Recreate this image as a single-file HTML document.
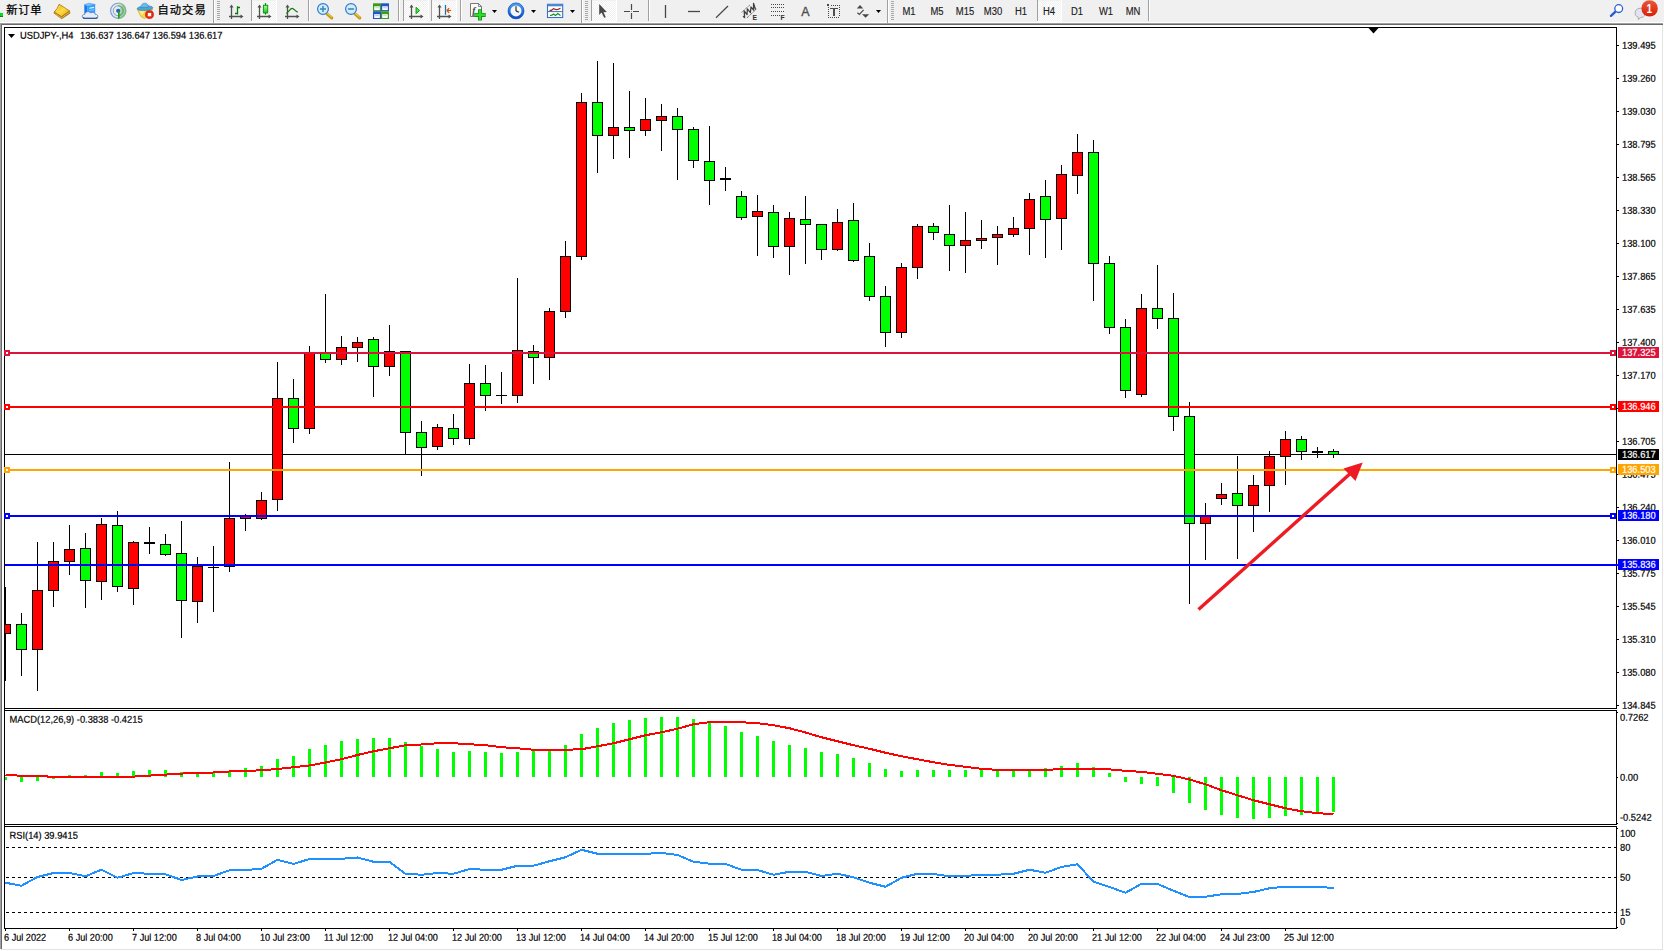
<!DOCTYPE html>
<html><head><meta charset="utf-8"><title>USDJPY H4</title>
<style>
html,body{margin:0;padding:0;background:#fff;}
body{width:1664px;height:951px;overflow:hidden;position:relative;font-family:"Liberation Sans","Noto Sans CJK SC",sans-serif;}
svg{position:absolute;left:0;top:0;display:block}
svg text{font-family:"Liberation Sans","Noto Sans CJK SC",sans-serif;}
</style></head><body>
<svg width="1664" height="951" viewBox="0 0 1664 951" shape-rendering="crispEdges">
<rect x="0" y="0" width="1664" height="951" fill="#fff"/>
<rect x="0" y="0" width="1664" height="22" fill="#f0f0f0"/>
<rect x="0" y="22" width="1664" height="1" fill="#fff"/>
<rect x="0" y="23" width="1663" height="1" fill="#a0a0a0"/>
<rect x="1" y="24" width="1662" height="1" fill="#696969"/>
<rect x="0" y="23" width="1" height="926" fill="#a0a0a0"/>
<rect x="1" y="24" width="1" height="925" fill="#696969"/>
<rect x="1662" y="25" width="1" height="925" fill="#e3e3e3"/>
<rect x="1" y="949" width="1662" height="1" fill="#e3e3e3"/>
<rect x="4" y="27" width="1613" height="1" fill="#000"/>
<rect x="4" y="27" width="1" height="902" fill="#000"/>
<rect x="1616" y="27" width="1" height="902" fill="#000"/>
<rect x="4" y="708" width="1613" height="1" fill="#000"/>
<rect x="4" y="710" width="1613" height="1" fill="#000"/>
<rect x="4" y="824" width="1613" height="1" fill="#000"/>
<rect x="4" y="826" width="1613" height="1" fill="#000"/>
<rect x="4" y="928" width="1613" height="1" fill="#000"/>
<rect x="5" y="709" width="1612" height="1" fill="#fff"/>
<rect x="5" y="825" width="1612" height="1" fill="#fff"/>
<polygon points="1368.5,28 1378.5,28 1373.5,33.5" fill="#000" shape-rendering="geometricPrecision"/>
<rect x="5" y="454" width="1611" height="1" fill="#000"/>
<rect x="5" y="587" width="1" height="94" fill="#000"/>
<rect x="0" y="624" width="11" height="10" fill="#000"/>
<rect x="1" y="625" width="9" height="8" fill="#ff0000"/>
<rect x="21" y="613" width="1" height="63" fill="#000"/>
<rect x="16" y="624" width="11" height="26" fill="#000"/>
<rect x="17" y="625" width="9" height="24" fill="#00ff00"/>
<rect x="37" y="542" width="1" height="149" fill="#000"/>
<rect x="32" y="590" width="11" height="60" fill="#000"/>
<rect x="33" y="591" width="9" height="58" fill="#ff0000"/>
<rect x="53" y="542" width="1" height="65" fill="#000"/>
<rect x="48" y="561" width="11" height="30" fill="#000"/>
<rect x="49" y="562" width="9" height="28" fill="#ff0000"/>
<rect x="69" y="525" width="1" height="50" fill="#000"/>
<rect x="64" y="549" width="11" height="13" fill="#000"/>
<rect x="65" y="550" width="9" height="11" fill="#ff0000"/>
<rect x="85" y="533" width="1" height="75" fill="#000"/>
<rect x="80" y="548" width="11" height="33" fill="#000"/>
<rect x="81" y="549" width="9" height="31" fill="#00ff00"/>
<rect x="101" y="518" width="1" height="82" fill="#000"/>
<rect x="96" y="524" width="11" height="58" fill="#000"/>
<rect x="97" y="525" width="9" height="56" fill="#ff0000"/>
<rect x="117" y="511" width="1" height="81" fill="#000"/>
<rect x="112" y="525" width="11" height="62" fill="#000"/>
<rect x="113" y="526" width="9" height="60" fill="#00ff00"/>
<rect x="133" y="541" width="1" height="64" fill="#000"/>
<rect x="128" y="542" width="11" height="47" fill="#000"/>
<rect x="129" y="543" width="9" height="45" fill="#ff0000"/>
<rect x="149" y="527" width="1" height="27" fill="#000"/>
<rect x="144" y="542" width="11" height="2" fill="#000"/>
<rect x="165" y="534" width="1" height="22" fill="#000"/>
<rect x="160" y="544" width="11" height="11" fill="#000"/>
<rect x="161" y="545" width="9" height="9" fill="#00ff00"/>
<rect x="181" y="521" width="1" height="117" fill="#000"/>
<rect x="176" y="553" width="11" height="48" fill="#000"/>
<rect x="177" y="554" width="9" height="46" fill="#00ff00"/>
<rect x="197" y="557" width="1" height="66" fill="#000"/>
<rect x="192" y="566" width="11" height="36" fill="#000"/>
<rect x="193" y="567" width="9" height="34" fill="#ff0000"/>
<rect x="213" y="546" width="1" height="66" fill="#000"/>
<rect x="208" y="567" width="11" height="1" fill="#000"/>
<rect x="229" y="462" width="1" height="110" fill="#000"/>
<rect x="224" y="518" width="11" height="49" fill="#000"/>
<rect x="225" y="519" width="9" height="47" fill="#ff0000"/>
<rect x="245" y="514" width="1" height="17" fill="#000"/>
<rect x="240" y="516" width="11" height="3" fill="#000"/>
<rect x="241" y="517" width="9" height="1" fill="#ff0000"/>
<rect x="261" y="492" width="1" height="28" fill="#000"/>
<rect x="256" y="500" width="11" height="19" fill="#000"/>
<rect x="257" y="501" width="9" height="17" fill="#ff0000"/>
<rect x="277" y="362" width="1" height="149" fill="#000"/>
<rect x="272" y="398" width="11" height="102" fill="#000"/>
<rect x="273" y="399" width="9" height="100" fill="#ff0000"/>
<rect x="293" y="379" width="1" height="64" fill="#000"/>
<rect x="288" y="398" width="11" height="31" fill="#000"/>
<rect x="289" y="399" width="9" height="29" fill="#00ff00"/>
<rect x="309" y="346" width="1" height="88" fill="#000"/>
<rect x="304" y="353" width="11" height="76" fill="#000"/>
<rect x="305" y="354" width="9" height="74" fill="#ff0000"/>
<rect x="325" y="294" width="1" height="69" fill="#000"/>
<rect x="320" y="353" width="11" height="7" fill="#000"/>
<rect x="321" y="354" width="9" height="5" fill="#00ff00"/>
<rect x="341" y="336" width="1" height="29" fill="#000"/>
<rect x="336" y="347" width="11" height="13" fill="#000"/>
<rect x="337" y="348" width="9" height="11" fill="#ff0000"/>
<rect x="357" y="337" width="1" height="25" fill="#000"/>
<rect x="352" y="342" width="11" height="6" fill="#000"/>
<rect x="353" y="343" width="9" height="4" fill="#ff0000"/>
<rect x="373" y="337" width="1" height="60" fill="#000"/>
<rect x="368" y="339" width="11" height="28" fill="#000"/>
<rect x="369" y="340" width="9" height="26" fill="#00ff00"/>
<rect x="389" y="325" width="1" height="51" fill="#000"/>
<rect x="384" y="351" width="11" height="16" fill="#000"/>
<rect x="385" y="352" width="9" height="14" fill="#ff0000"/>
<rect x="405" y="351" width="1" height="103" fill="#000"/>
<rect x="400" y="351" width="11" height="82" fill="#000"/>
<rect x="401" y="352" width="9" height="80" fill="#00ff00"/>
<rect x="421" y="421" width="1" height="55" fill="#000"/>
<rect x="416" y="432" width="11" height="16" fill="#000"/>
<rect x="417" y="433" width="9" height="14" fill="#00ff00"/>
<rect x="437" y="424" width="1" height="26" fill="#000"/>
<rect x="432" y="427" width="11" height="20" fill="#000"/>
<rect x="433" y="428" width="9" height="18" fill="#ff0000"/>
<rect x="453" y="414" width="1" height="31" fill="#000"/>
<rect x="448" y="428" width="11" height="11" fill="#000"/>
<rect x="449" y="429" width="9" height="9" fill="#00ff00"/>
<rect x="469" y="364" width="1" height="81" fill="#000"/>
<rect x="464" y="383" width="11" height="56" fill="#000"/>
<rect x="465" y="384" width="9" height="54" fill="#ff0000"/>
<rect x="485" y="365" width="1" height="46" fill="#000"/>
<rect x="480" y="383" width="11" height="13" fill="#000"/>
<rect x="481" y="384" width="9" height="11" fill="#00ff00"/>
<rect x="501" y="372" width="1" height="32" fill="#000"/>
<rect x="496" y="395" width="11" height="1" fill="#000"/>
<rect x="517" y="278" width="1" height="125" fill="#000"/>
<rect x="512" y="350" width="11" height="46" fill="#000"/>
<rect x="513" y="351" width="9" height="44" fill="#ff0000"/>
<rect x="533" y="345" width="1" height="39" fill="#000"/>
<rect x="528" y="351" width="11" height="7" fill="#000"/>
<rect x="529" y="352" width="9" height="5" fill="#00ff00"/>
<rect x="549" y="308" width="1" height="72" fill="#000"/>
<rect x="544" y="311" width="11" height="47" fill="#000"/>
<rect x="545" y="312" width="9" height="45" fill="#ff0000"/>
<rect x="565" y="241" width="1" height="77" fill="#000"/>
<rect x="560" y="256" width="11" height="56" fill="#000"/>
<rect x="561" y="257" width="9" height="54" fill="#ff0000"/>
<rect x="581" y="93" width="1" height="167" fill="#000"/>
<rect x="576" y="102" width="11" height="155" fill="#000"/>
<rect x="577" y="103" width="9" height="153" fill="#ff0000"/>
<rect x="597" y="61" width="1" height="112" fill="#000"/>
<rect x="592" y="102" width="11" height="34" fill="#000"/>
<rect x="593" y="103" width="9" height="32" fill="#00ff00"/>
<rect x="613" y="63" width="1" height="96" fill="#000"/>
<rect x="608" y="127" width="11" height="9" fill="#000"/>
<rect x="609" y="128" width="9" height="7" fill="#ff0000"/>
<rect x="629" y="91" width="1" height="67" fill="#000"/>
<rect x="624" y="127" width="11" height="4" fill="#000"/>
<rect x="625" y="128" width="9" height="2" fill="#00ff00"/>
<rect x="645" y="98" width="1" height="38" fill="#000"/>
<rect x="640" y="119" width="11" height="12" fill="#000"/>
<rect x="641" y="120" width="9" height="10" fill="#ff0000"/>
<rect x="661" y="104" width="1" height="47" fill="#000"/>
<rect x="656" y="116" width="11" height="5" fill="#000"/>
<rect x="657" y="117" width="9" height="3" fill="#ff0000"/>
<rect x="677" y="108" width="1" height="72" fill="#000"/>
<rect x="672" y="116" width="11" height="14" fill="#000"/>
<rect x="673" y="117" width="9" height="12" fill="#00ff00"/>
<rect x="693" y="127" width="1" height="41" fill="#000"/>
<rect x="688" y="129" width="11" height="32" fill="#000"/>
<rect x="689" y="130" width="9" height="30" fill="#00ff00"/>
<rect x="709" y="126" width="1" height="79" fill="#000"/>
<rect x="704" y="161" width="11" height="20" fill="#000"/>
<rect x="705" y="162" width="9" height="18" fill="#00ff00"/>
<rect x="725" y="167" width="1" height="24" fill="#000"/>
<rect x="720" y="178" width="11" height="2" fill="#000"/>
<rect x="741" y="191" width="1" height="29" fill="#000"/>
<rect x="736" y="196" width="11" height="22" fill="#000"/>
<rect x="737" y="197" width="9" height="20" fill="#00ff00"/>
<rect x="757" y="195" width="1" height="61" fill="#000"/>
<rect x="752" y="211" width="11" height="6" fill="#000"/>
<rect x="753" y="212" width="9" height="4" fill="#ff0000"/>
<rect x="773" y="205" width="1" height="53" fill="#000"/>
<rect x="768" y="212" width="11" height="35" fill="#000"/>
<rect x="769" y="213" width="9" height="33" fill="#00ff00"/>
<rect x="789" y="212" width="1" height="63" fill="#000"/>
<rect x="784" y="218" width="11" height="29" fill="#000"/>
<rect x="785" y="219" width="9" height="27" fill="#ff0000"/>
<rect x="805" y="196" width="1" height="68" fill="#000"/>
<rect x="800" y="219" width="11" height="6" fill="#000"/>
<rect x="801" y="220" width="9" height="4" fill="#00ff00"/>
<rect x="821" y="224" width="1" height="36" fill="#000"/>
<rect x="816" y="224" width="11" height="26" fill="#000"/>
<rect x="817" y="225" width="9" height="24" fill="#00ff00"/>
<rect x="837" y="209" width="1" height="42" fill="#000"/>
<rect x="832" y="222" width="11" height="28" fill="#000"/>
<rect x="833" y="223" width="9" height="26" fill="#ff0000"/>
<rect x="853" y="203" width="1" height="59" fill="#000"/>
<rect x="848" y="220" width="11" height="41" fill="#000"/>
<rect x="849" y="221" width="9" height="39" fill="#00ff00"/>
<rect x="869" y="243" width="1" height="58" fill="#000"/>
<rect x="864" y="256" width="11" height="41" fill="#000"/>
<rect x="865" y="257" width="9" height="39" fill="#00ff00"/>
<rect x="885" y="286" width="1" height="61" fill="#000"/>
<rect x="880" y="296" width="11" height="37" fill="#000"/>
<rect x="881" y="297" width="9" height="35" fill="#00ff00"/>
<rect x="901" y="263" width="1" height="75" fill="#000"/>
<rect x="896" y="267" width="11" height="66" fill="#000"/>
<rect x="897" y="268" width="9" height="64" fill="#ff0000"/>
<rect x="917" y="224" width="1" height="55" fill="#000"/>
<rect x="912" y="226" width="11" height="42" fill="#000"/>
<rect x="913" y="227" width="9" height="40" fill="#ff0000"/>
<rect x="933" y="223" width="1" height="17" fill="#000"/>
<rect x="928" y="226" width="11" height="7" fill="#000"/>
<rect x="929" y="227" width="9" height="5" fill="#00ff00"/>
<rect x="949" y="205" width="1" height="66" fill="#000"/>
<rect x="944" y="234" width="11" height="12" fill="#000"/>
<rect x="945" y="235" width="9" height="10" fill="#00ff00"/>
<rect x="965" y="212" width="1" height="61" fill="#000"/>
<rect x="960" y="240" width="11" height="6" fill="#000"/>
<rect x="961" y="241" width="9" height="4" fill="#ff0000"/>
<rect x="981" y="220" width="1" height="29" fill="#000"/>
<rect x="976" y="238" width="11" height="3" fill="#000"/>
<rect x="977" y="239" width="9" height="1" fill="#ff0000"/>
<rect x="997" y="226" width="1" height="39" fill="#000"/>
<rect x="992" y="234" width="11" height="4" fill="#000"/>
<rect x="993" y="235" width="9" height="2" fill="#ff0000"/>
<rect x="1013" y="217" width="1" height="20" fill="#000"/>
<rect x="1008" y="228" width="11" height="7" fill="#000"/>
<rect x="1009" y="229" width="9" height="5" fill="#ff0000"/>
<rect x="1029" y="193" width="1" height="62" fill="#000"/>
<rect x="1024" y="199" width="11" height="30" fill="#000"/>
<rect x="1025" y="200" width="9" height="28" fill="#ff0000"/>
<rect x="1045" y="180" width="1" height="78" fill="#000"/>
<rect x="1040" y="196" width="11" height="24" fill="#000"/>
<rect x="1041" y="197" width="9" height="22" fill="#00ff00"/>
<rect x="1061" y="165" width="1" height="85" fill="#000"/>
<rect x="1056" y="174" width="11" height="45" fill="#000"/>
<rect x="1057" y="175" width="9" height="43" fill="#ff0000"/>
<rect x="1077" y="134" width="1" height="60" fill="#000"/>
<rect x="1072" y="152" width="11" height="24" fill="#000"/>
<rect x="1073" y="153" width="9" height="22" fill="#ff0000"/>
<rect x="1093" y="140" width="1" height="161" fill="#000"/>
<rect x="1088" y="152" width="11" height="112" fill="#000"/>
<rect x="1089" y="153" width="9" height="110" fill="#00ff00"/>
<rect x="1109" y="256" width="1" height="78" fill="#000"/>
<rect x="1104" y="263" width="11" height="65" fill="#000"/>
<rect x="1105" y="264" width="9" height="63" fill="#00ff00"/>
<rect x="1125" y="319" width="1" height="79" fill="#000"/>
<rect x="1120" y="327" width="11" height="64" fill="#000"/>
<rect x="1121" y="328" width="9" height="62" fill="#00ff00"/>
<rect x="1141" y="294" width="1" height="103" fill="#000"/>
<rect x="1136" y="308" width="11" height="87" fill="#000"/>
<rect x="1137" y="309" width="9" height="85" fill="#ff0000"/>
<rect x="1157" y="265" width="1" height="64" fill="#000"/>
<rect x="1152" y="308" width="11" height="11" fill="#000"/>
<rect x="1153" y="309" width="9" height="9" fill="#00ff00"/>
<rect x="1173" y="293" width="1" height="138" fill="#000"/>
<rect x="1168" y="318" width="11" height="99" fill="#000"/>
<rect x="1169" y="319" width="9" height="97" fill="#00ff00"/>
<rect x="1189" y="402" width="1" height="202" fill="#000"/>
<rect x="1184" y="416" width="11" height="108" fill="#000"/>
<rect x="1185" y="417" width="9" height="106" fill="#00ff00"/>
<rect x="1205" y="503" width="1" height="57" fill="#000"/>
<rect x="1200" y="516" width="11" height="8" fill="#000"/>
<rect x="1201" y="517" width="9" height="6" fill="#ff0000"/>
<rect x="1221" y="483" width="1" height="22" fill="#000"/>
<rect x="1216" y="494" width="11" height="5" fill="#000"/>
<rect x="1217" y="495" width="9" height="3" fill="#ff0000"/>
<rect x="1237" y="456" width="1" height="103" fill="#000"/>
<rect x="1232" y="493" width="11" height="13" fill="#000"/>
<rect x="1233" y="494" width="9" height="11" fill="#00ff00"/>
<rect x="1253" y="475" width="1" height="57" fill="#000"/>
<rect x="1248" y="485" width="11" height="21" fill="#000"/>
<rect x="1249" y="486" width="9" height="19" fill="#ff0000"/>
<rect x="1269" y="451" width="1" height="61" fill="#000"/>
<rect x="1264" y="456" width="11" height="30" fill="#000"/>
<rect x="1265" y="457" width="9" height="28" fill="#ff0000"/>
<rect x="1285" y="431" width="1" height="54" fill="#000"/>
<rect x="1280" y="439" width="11" height="18" fill="#000"/>
<rect x="1281" y="440" width="9" height="16" fill="#ff0000"/>
<rect x="1301" y="436" width="1" height="24" fill="#000"/>
<rect x="1296" y="439" width="11" height="13" fill="#000"/>
<rect x="1297" y="440" width="9" height="11" fill="#00ff00"/>
<rect x="1317" y="447" width="1" height="11" fill="#000"/>
<rect x="1312" y="451" width="11" height="2" fill="#000"/>
<rect x="1333" y="449" width="1" height="9" fill="#000"/>
<rect x="1328" y="451" width="11" height="4" fill="#000"/>
<rect x="1329" y="452" width="9" height="2" fill="#00ff00"/>
<rect x="0" y="25" width="4" height="680" fill="#fff"/>
<rect x="0" y="23" width="1" height="926" fill="#a0a0a0"/>
<rect x="1" y="24" width="1" height="925" fill="#696969"/>
<rect x="4" y="27" width="1" height="902" fill="#000"/>
<rect x="1617" y="45" width="2" height="1" fill="#000"/>
<text transform="translate(1622 48.7) scale(0.933 1) rotate(0.03)" font-size="10.0px" fill="#000" stroke="#000" stroke-width="0.2" text-anchor="start">139.495</text>
<rect x="1617" y="78" width="2" height="1" fill="#000"/>
<text transform="translate(1622 81.7) scale(0.933 1) rotate(0.03)" font-size="10.0px" fill="#000" stroke="#000" stroke-width="0.2" text-anchor="start">139.260</text>
<rect x="1617" y="111" width="2" height="1" fill="#000"/>
<text transform="translate(1622 114.7) scale(0.933 1) rotate(0.03)" font-size="10.0px" fill="#000" stroke="#000" stroke-width="0.2" text-anchor="start">139.030</text>
<rect x="1617" y="144" width="2" height="1" fill="#000"/>
<text transform="translate(1622 147.7) scale(0.933 1) rotate(0.03)" font-size="10.0px" fill="#000" stroke="#000" stroke-width="0.2" text-anchor="start">138.795</text>
<rect x="1617" y="177" width="2" height="1" fill="#000"/>
<text transform="translate(1622 180.7) scale(0.933 1) rotate(0.03)" font-size="10.0px" fill="#000" stroke="#000" stroke-width="0.2" text-anchor="start">138.565</text>
<rect x="1617" y="210" width="2" height="1" fill="#000"/>
<text transform="translate(1622 213.7) scale(0.933 1) rotate(0.03)" font-size="10.0px" fill="#000" stroke="#000" stroke-width="0.2" text-anchor="start">138.330</text>
<rect x="1617" y="243" width="2" height="1" fill="#000"/>
<text transform="translate(1622 246.7) scale(0.933 1) rotate(0.03)" font-size="10.0px" fill="#000" stroke="#000" stroke-width="0.2" text-anchor="start">138.100</text>
<rect x="1617" y="276" width="2" height="1" fill="#000"/>
<text transform="translate(1622 279.7) scale(0.933 1) rotate(0.03)" font-size="10.0px" fill="#000" stroke="#000" stroke-width="0.2" text-anchor="start">137.865</text>
<rect x="1617" y="309" width="2" height="1" fill="#000"/>
<text transform="translate(1622 312.7) scale(0.933 1) rotate(0.03)" font-size="10.0px" fill="#000" stroke="#000" stroke-width="0.2" text-anchor="start">137.635</text>
<rect x="1617" y="342" width="2" height="1" fill="#000"/>
<text transform="translate(1622 345.7) scale(0.933 1) rotate(0.03)" font-size="10.0px" fill="#000" stroke="#000" stroke-width="0.2" text-anchor="start">137.400</text>
<rect x="1617" y="375" width="2" height="1" fill="#000"/>
<text transform="translate(1622 378.7) scale(0.933 1) rotate(0.03)" font-size="10.0px" fill="#000" stroke="#000" stroke-width="0.2" text-anchor="start">137.170</text>
<rect x="1617" y="408" width="2" height="1" fill="#000"/>
<rect x="1617" y="441" width="2" height="1" fill="#000"/>
<text transform="translate(1622 444.7) scale(0.933 1) rotate(0.03)" font-size="10.0px" fill="#000" stroke="#000" stroke-width="0.2" text-anchor="start">136.705</text>
<rect x="1617" y="474" width="2" height="1" fill="#000"/>
<text transform="translate(1622 477.7) scale(0.933 1) rotate(0.03)" font-size="10.0px" fill="#000" stroke="#000" stroke-width="0.2" text-anchor="start">136.475</text>
<rect x="1617" y="507" width="2" height="1" fill="#000"/>
<text transform="translate(1622 510.7) scale(0.933 1) rotate(0.03)" font-size="10.0px" fill="#000" stroke="#000" stroke-width="0.2" text-anchor="start">136.240</text>
<rect x="1617" y="540" width="2" height="1" fill="#000"/>
<text transform="translate(1622 543.7) scale(0.933 1) rotate(0.03)" font-size="10.0px" fill="#000" stroke="#000" stroke-width="0.2" text-anchor="start">136.010</text>
<rect x="1617" y="573" width="2" height="1" fill="#000"/>
<text transform="translate(1622 576.7) scale(0.933 1) rotate(0.03)" font-size="10.0px" fill="#000" stroke="#000" stroke-width="0.2" text-anchor="start">135.775</text>
<rect x="1617" y="606" width="2" height="1" fill="#000"/>
<text transform="translate(1622 609.7) scale(0.933 1) rotate(0.03)" font-size="10.0px" fill="#000" stroke="#000" stroke-width="0.2" text-anchor="start">135.545</text>
<rect x="1617" y="639" width="2" height="1" fill="#000"/>
<text transform="translate(1622 642.7) scale(0.933 1) rotate(0.03)" font-size="10.0px" fill="#000" stroke="#000" stroke-width="0.2" text-anchor="start">135.310</text>
<rect x="1617" y="672" width="2" height="1" fill="#000"/>
<text transform="translate(1622 675.7) scale(0.933 1) rotate(0.03)" font-size="10.0px" fill="#000" stroke="#000" stroke-width="0.2" text-anchor="start">135.080</text>
<rect x="1617" y="705" width="2" height="1" fill="#000"/>
<text transform="translate(1622 708.7) scale(0.933 1) rotate(0.03)" font-size="10.0px" fill="#000" stroke="#000" stroke-width="0.2" text-anchor="start">134.845</text>
<rect x="5" y="352" width="1611" height="2" fill="#dc143c"/>
<rect x="4" y="350" width="6" height="6" fill="#dc143c"/>
<rect x="6" y="352" width="2" height="2" fill="#fff"/>
<rect x="1610" y="350" width="6" height="6" fill="#dc143c"/>
<rect x="1612" y="352" width="2" height="2" fill="#fff"/>
<rect x="1618" y="347" width="41" height="11" fill="#dc143c"/>
<text transform="translate(1622 355.7) scale(0.933 1) rotate(0.03)" font-size="10.0px" fill="#fff" stroke="#fff" stroke-width="0.2" text-anchor="start">137.325</text>
<rect x="5" y="406" width="1611" height="2" fill="#ff0000"/>
<rect x="4" y="404" width="6" height="6" fill="#ff0000"/>
<rect x="6" y="406" width="2" height="2" fill="#fff"/>
<rect x="1610" y="404" width="6" height="6" fill="#ff0000"/>
<rect x="1612" y="406" width="2" height="2" fill="#fff"/>
<rect x="1618" y="401" width="41" height="11" fill="#ff0000"/>
<text transform="translate(1622 409.7) scale(0.933 1) rotate(0.03)" font-size="10.0px" fill="#fff" stroke="#fff" stroke-width="0.2" text-anchor="start">136.946</text>
<rect x="1618" y="449" width="41" height="11" fill="#000"/>
<text transform="translate(1622 457.7) scale(0.933 1) rotate(0.03)" font-size="10.0px" fill="#fff" stroke="#fff" stroke-width="0.2" text-anchor="start">136.617</text>
<rect x="5" y="469" width="1611" height="2" fill="#ffa500"/>
<rect x="4" y="467" width="6" height="6" fill="#ffa500"/>
<rect x="6" y="469" width="2" height="2" fill="#fff"/>
<rect x="1610" y="467" width="6" height="6" fill="#ffa500"/>
<rect x="1612" y="469" width="2" height="2" fill="#fff"/>
<rect x="1618" y="464" width="41" height="11" fill="#ffa500"/>
<text transform="translate(1622 472.7) scale(0.933 1) rotate(0.03)" font-size="10.0px" fill="#fff" stroke="#fff" stroke-width="0.2" text-anchor="start">136.503</text>
<rect x="5" y="515" width="1611" height="2" fill="#0000ff"/>
<rect x="4" y="513" width="6" height="6" fill="#0000ff"/>
<rect x="6" y="515" width="2" height="2" fill="#fff"/>
<rect x="1610" y="513" width="6" height="6" fill="#0000ff"/>
<rect x="1612" y="515" width="2" height="2" fill="#fff"/>
<rect x="1618" y="510" width="41" height="11" fill="#0000ff"/>
<text transform="translate(1622 518.7) scale(0.933 1) rotate(0.03)" font-size="10.0px" fill="#fff" stroke="#fff" stroke-width="0.2" text-anchor="start">136.180</text>
<rect x="5" y="564" width="1611" height="2" fill="#0000ff"/>
<rect x="1616" y="564" width="3" height="2" fill="#0000ff"/>
<rect x="1618" y="559" width="41" height="11" fill="#0000ff"/>
<text transform="translate(1622 567.7) scale(0.933 1) rotate(0.03)" font-size="10.0px" fill="#fff" stroke="#fff" stroke-width="0.2" text-anchor="start">135.836</text>
<g shape-rendering="geometricPrecision"><line x1="1198.5" y1="609.5" x2="1352" y2="472" stroke="#ed1c24" stroke-width="3.4"/><polygon points="1362.7,462.5 1343.5,468.6 1355.5,480.9" fill="#ed1c24"/></g>
<polygon points="8,34 15,34 11.5,38" fill="#000" shape-rendering="geometricPrecision"/>
<text transform="translate(20 38.7) scale(0.933 1) rotate(0.03)" font-size="10.0px" fill="#000" stroke="#000" stroke-width="0.2" text-anchor="start">USDJPY-,H4</text>
<text transform="translate(80 38.7) scale(0.933 1) rotate(0.03)" font-size="10.0px" fill="#000" stroke="#000" stroke-width="0.2" text-anchor="start">136.637 136.647 136.594 136.617</text>
<rect x="5" y="777" width="2" height="3" fill="#00ff00"/>
<rect x="20" y="777" width="3" height="5" fill="#00ff00"/>
<rect x="36" y="777" width="3" height="4" fill="#00ff00"/>
<rect x="52" y="777" width="3" height="2" fill="#00ff00"/>
<rect x="68" y="775" width="3" height="2" fill="#00ff00"/>
<rect x="84" y="775" width="3" height="2" fill="#00ff00"/>
<rect x="100" y="772" width="3" height="5" fill="#00ff00"/>
<rect x="116" y="773" width="3" height="4" fill="#00ff00"/>
<rect x="132" y="771" width="3" height="6" fill="#00ff00"/>
<rect x="148" y="770" width="3" height="7" fill="#00ff00"/>
<rect x="164" y="770" width="3" height="7" fill="#00ff00"/>
<rect x="180" y="772" width="3" height="5" fill="#00ff00"/>
<rect x="196" y="772" width="3" height="5" fill="#00ff00"/>
<rect x="212" y="772" width="3" height="5" fill="#00ff00"/>
<rect x="228" y="771" width="3" height="6" fill="#00ff00"/>
<rect x="244" y="768" width="3" height="9" fill="#00ff00"/>
<rect x="260" y="766" width="3" height="11" fill="#00ff00"/>
<rect x="276" y="759" width="3" height="18" fill="#00ff00"/>
<rect x="292" y="756" width="3" height="21" fill="#00ff00"/>
<rect x="308" y="749" width="3" height="28" fill="#00ff00"/>
<rect x="324" y="745" width="3" height="32" fill="#00ff00"/>
<rect x="340" y="741" width="3" height="36" fill="#00ff00"/>
<rect x="356" y="739" width="3" height="38" fill="#00ff00"/>
<rect x="372" y="738" width="3" height="39" fill="#00ff00"/>
<rect x="388" y="738" width="3" height="39" fill="#00ff00"/>
<rect x="404" y="742" width="3" height="35" fill="#00ff00"/>
<rect x="420" y="746" width="3" height="31" fill="#00ff00"/>
<rect x="436" y="749" width="3" height="28" fill="#00ff00"/>
<rect x="452" y="752" width="3" height="25" fill="#00ff00"/>
<rect x="468" y="751" width="3" height="26" fill="#00ff00"/>
<rect x="484" y="752" width="3" height="25" fill="#00ff00"/>
<rect x="500" y="753" width="3" height="24" fill="#00ff00"/>
<rect x="516" y="752" width="3" height="25" fill="#00ff00"/>
<rect x="532" y="751" width="3" height="26" fill="#00ff00"/>
<rect x="548" y="751" width="3" height="26" fill="#00ff00"/>
<rect x="564" y="745" width="3" height="32" fill="#00ff00"/>
<rect x="580" y="734" width="3" height="43" fill="#00ff00"/>
<rect x="596" y="728" width="3" height="49" fill="#00ff00"/>
<rect x="612" y="723" width="3" height="54" fill="#00ff00"/>
<rect x="628" y="720" width="3" height="57" fill="#00ff00"/>
<rect x="644" y="718" width="3" height="59" fill="#00ff00"/>
<rect x="660" y="717" width="3" height="60" fill="#00ff00"/>
<rect x="676" y="717" width="3" height="60" fill="#00ff00"/>
<rect x="692" y="719" width="3" height="58" fill="#00ff00"/>
<rect x="708" y="723" width="3" height="54" fill="#00ff00"/>
<rect x="724" y="726" width="3" height="51" fill="#00ff00"/>
<rect x="740" y="732" width="3" height="45" fill="#00ff00"/>
<rect x="756" y="736" width="3" height="41" fill="#00ff00"/>
<rect x="772" y="741" width="3" height="36" fill="#00ff00"/>
<rect x="788" y="745" width="3" height="32" fill="#00ff00"/>
<rect x="804" y="748" width="3" height="29" fill="#00ff00"/>
<rect x="820" y="752" width="3" height="25" fill="#00ff00"/>
<rect x="836" y="754" width="3" height="23" fill="#00ff00"/>
<rect x="852" y="758" width="3" height="19" fill="#00ff00"/>
<rect x="868" y="763" width="3" height="14" fill="#00ff00"/>
<rect x="884" y="769" width="3" height="8" fill="#00ff00"/>
<rect x="900" y="771" width="3" height="6" fill="#00ff00"/>
<rect x="916" y="770" width="3" height="7" fill="#00ff00"/>
<rect x="932" y="770" width="3" height="7" fill="#00ff00"/>
<rect x="948" y="770" width="3" height="7" fill="#00ff00"/>
<rect x="964" y="770" width="3" height="7" fill="#00ff00"/>
<rect x="980" y="770" width="3" height="7" fill="#00ff00"/>
<rect x="996" y="770" width="3" height="7" fill="#00ff00"/>
<rect x="1012" y="770" width="3" height="7" fill="#00ff00"/>
<rect x="1028" y="770" width="3" height="7" fill="#00ff00"/>
<rect x="1044" y="768" width="3" height="9" fill="#00ff00"/>
<rect x="1060" y="766" width="3" height="11" fill="#00ff00"/>
<rect x="1076" y="763" width="3" height="14" fill="#00ff00"/>
<rect x="1092" y="767" width="3" height="10" fill="#00ff00"/>
<rect x="1108" y="773" width="3" height="4" fill="#00ff00"/>
<rect x="1124" y="777" width="3" height="5" fill="#00ff00"/>
<rect x="1140" y="777" width="3" height="7" fill="#00ff00"/>
<rect x="1156" y="777" width="3" height="9" fill="#00ff00"/>
<rect x="1172" y="777" width="3" height="16" fill="#00ff00"/>
<rect x="1188" y="777" width="3" height="26" fill="#00ff00"/>
<rect x="1204" y="777" width="3" height="33" fill="#00ff00"/>
<rect x="1220" y="777" width="3" height="38" fill="#00ff00"/>
<rect x="1236" y="777" width="3" height="41" fill="#00ff00"/>
<rect x="1252" y="777" width="3" height="42" fill="#00ff00"/>
<rect x="1268" y="777" width="3" height="41" fill="#00ff00"/>
<rect x="1284" y="777" width="3" height="39" fill="#00ff00"/>
<rect x="1300" y="777" width="3" height="38" fill="#00ff00"/>
<rect x="1316" y="777" width="3" height="36" fill="#00ff00"/>
<rect x="1332" y="777" width="3" height="35" fill="#00ff00"/>
<polyline points="5.5,775 21.5,775.7 37.5,776.2 53.5,776.7 69.5,777 85.5,777 101.5,777 117.5,777 133.5,776.6 149.5,775.6 165.5,774.6 181.5,773.6 197.5,772.8 213.5,772.5 229.5,771.5 245.5,771 261.5,770.25 277.5,769 293.5,767.25 309.5,765.5 325.5,762.5 341.5,759.25 357.5,755 373.5,751.25 389.5,748.25 405.5,745.25 421.5,744.5 437.5,743.25 453.5,743.25 469.5,744.25 485.5,745.25 501.5,747.25 517.5,748.25 533.5,749.75 549.5,749.75 565.5,749.75 581.5,749.25 597.5,746.25 613.5,743.25 629.5,739.25 645.5,735.25 661.5,732.25 677.5,728.75 693.5,724.25 709.5,722.25 725.5,722 741.5,722.25 757.5,723.25 773.5,725.25 789.5,728.25 805.5,732.5 821.5,737.25 837.5,741.25 853.5,745.25 869.5,748.75 885.5,752.75 901.5,756.25 917.5,759.25 933.5,762.25 949.5,764.85 965.5,766.85 981.5,768.85 997.5,769.85 1013.5,769.85 1029.5,769.85 1045.5,769.85 1061.5,769.1 1077.5,768.85 1093.5,768.85 1109.5,769.35 1125.5,770.85 1141.5,771.85 1157.5,773.85 1173.5,775.85 1189.5,779.5 1205.5,784.25 1221.5,790.25 1237.5,795.25 1253.5,800.25 1269.5,804.25 1285.5,808.25 1301.5,811.25 1317.5,813.25 1333.5,814" fill="none" stroke="#ff0000" stroke-width="2" stroke-linejoin="round" shape-rendering="crispEdges"/>
<text transform="translate(9.5 722.7) scale(0.933 1) rotate(0.03)" font-size="10.0px" fill="#000" stroke="#000" stroke-width="0.2" text-anchor="start">MACD(12,26,9) -0.3838 -0.4215</text>
<rect x="1617" y="712" width="1" height="1" fill="#000"/>
<text transform="translate(1620 720.7) scale(0.933 1) rotate(0.03)" font-size="10.0px" fill="#000" stroke="#000" stroke-width="0.2" text-anchor="start">0.7262</text>
<rect x="1617" y="777" width="1" height="1" fill="#000"/>
<text transform="translate(1620 780.7) scale(0.933 1) rotate(0.03)" font-size="10.0px" fill="#000" stroke="#000" stroke-width="0.2" text-anchor="start">0.00</text>
<rect x="1617" y="823" width="1" height="1" fill="#000"/>
<text transform="translate(1620 820.7) scale(0.933 1) rotate(0.03)" font-size="10.0px" fill="#000" stroke="#000" stroke-width="0.2" text-anchor="start">-0.5242</text>
<line x1="6" y1="847.5" x2="1616" y2="847.5" stroke="#000" stroke-width="1" stroke-dasharray="3,3"/>
<line x1="6" y1="877.5" x2="1616" y2="877.5" stroke="#000" stroke-width="1" stroke-dasharray="3,3"/>
<line x1="6" y1="912.5" x2="1616" y2="912.5" stroke="#000" stroke-width="1" stroke-dasharray="3,3"/>
<polyline points="5.5,882.75 21.5,885.75 37.5,877 53.5,873 69.5,873 85.5,876.25 101.5,869.75 117.5,877.75 133.5,873 149.5,873.75 165.5,874.25 181.5,880 197.5,876.5 213.5,876 229.5,870.25 245.5,870 261.5,868.75 277.5,859.75 293.5,864 309.5,859 325.5,859 341.5,858.75 357.5,857.5 373.5,861.75 389.5,862 405.5,873.75 421.5,874.75 437.5,873 453.5,873.75 469.5,869 485.5,869.75 501.5,869.75 517.5,865.75 533.5,865.75 549.5,861.25 565.5,857.25 581.5,849.75 597.5,853.75 613.5,853.75 629.5,853.75 645.5,853.75 661.5,853 677.5,855 693.5,861.75 709.5,863.75 725.5,864 741.5,869.75 757.5,870 773.5,874.75 789.5,871.75 805.5,871.9 821.5,876 837.5,873.75 853.5,877.25 869.5,882.75 885.5,886.75 901.5,877.75 917.5,873.75 933.5,874 949.5,876.25 965.5,875.75 981.5,875 997.5,874.75 1013.5,873.75 1029.5,869.75 1045.5,872.75 1061.5,867 1077.5,864.25 1093.5,881.75 1109.5,887 1125.5,892.75 1141.5,883.75 1157.5,884 1173.5,890.75 1189.5,897 1205.5,896.75 1221.5,894.25 1237.5,894 1253.5,892 1269.5,888.25 1285.5,886.75 1301.5,886.75 1317.5,886.75 1333.5,888" fill="none" stroke="#1e90ff" stroke-width="2" stroke-linejoin="round" stroke-linecap="round" shape-rendering="crispEdges"/>
<text transform="translate(9.5 838.7) scale(0.933 1) rotate(0.03)" font-size="10.0px" fill="#000" stroke="#000" stroke-width="0.2" text-anchor="start">RSI(14) 39.9415</text>
<rect x="1617" y="828" width="1" height="1" fill="#000"/>
<text transform="translate(1620 836.7) scale(0.933 1) rotate(0.03)" font-size="10.0px" fill="#000" stroke="#000" stroke-width="0.2" text-anchor="start">100</text>
<text transform="translate(1620 850.7) scale(0.933 1) rotate(0.03)" font-size="10.0px" fill="#000" stroke="#000" stroke-width="0.2" text-anchor="start">80</text>
<text transform="translate(1620 880.7) scale(0.933 1) rotate(0.03)" font-size="10.0px" fill="#000" stroke="#000" stroke-width="0.2" text-anchor="start">50</text>
<text transform="translate(1620 915.7) scale(0.933 1) rotate(0.03)" font-size="10.0px" fill="#000" stroke="#000" stroke-width="0.2" text-anchor="start">15</text>
<text transform="translate(1620 924.7) scale(0.933 1) rotate(0.03)" font-size="10.0px" fill="#000" stroke="#000" stroke-width="0.2" text-anchor="start">0</text>
<rect x="1617" y="927" width="1" height="1" fill="#000"/>
<rect x="5" y="929" width="1" height="2" fill="#000"/>
<text transform="translate(4 940.7) scale(0.915 1) rotate(0.03)" font-size="10.0px" fill="#000" stroke="#000" stroke-width="0.2" text-anchor="start">6 Jul 2022</text>
<rect x="69" y="929" width="1" height="2" fill="#000"/>
<text transform="translate(68 940.7) scale(0.915 1) rotate(0.03)" font-size="10.0px" fill="#000" stroke="#000" stroke-width="0.2" text-anchor="start">6 Jul 20:00</text>
<rect x="133" y="929" width="1" height="2" fill="#000"/>
<text transform="translate(132 940.7) scale(0.915 1) rotate(0.03)" font-size="10.0px" fill="#000" stroke="#000" stroke-width="0.2" text-anchor="start">7 Jul 12:00</text>
<rect x="197" y="929" width="1" height="2" fill="#000"/>
<text transform="translate(196 940.7) scale(0.915 1) rotate(0.03)" font-size="10.0px" fill="#000" stroke="#000" stroke-width="0.2" text-anchor="start">8 Jul 04:00</text>
<rect x="261" y="929" width="1" height="2" fill="#000"/>
<text transform="translate(260 940.7) scale(0.915 1) rotate(0.03)" font-size="10.0px" fill="#000" stroke="#000" stroke-width="0.2" text-anchor="start">10 Jul 23:00</text>
<rect x="325" y="929" width="1" height="2" fill="#000"/>
<text transform="translate(324 940.7) scale(0.915 1) rotate(0.03)" font-size="10.0px" fill="#000" stroke="#000" stroke-width="0.2" text-anchor="start">11 Jul 12:00</text>
<rect x="389" y="929" width="1" height="2" fill="#000"/>
<text transform="translate(388 940.7) scale(0.915 1) rotate(0.03)" font-size="10.0px" fill="#000" stroke="#000" stroke-width="0.2" text-anchor="start">12 Jul 04:00</text>
<rect x="453" y="929" width="1" height="2" fill="#000"/>
<text transform="translate(452 940.7) scale(0.915 1) rotate(0.03)" font-size="10.0px" fill="#000" stroke="#000" stroke-width="0.2" text-anchor="start">12 Jul 20:00</text>
<rect x="517" y="929" width="1" height="2" fill="#000"/>
<text transform="translate(516 940.7) scale(0.915 1) rotate(0.03)" font-size="10.0px" fill="#000" stroke="#000" stroke-width="0.2" text-anchor="start">13 Jul 12:00</text>
<rect x="581" y="929" width="1" height="2" fill="#000"/>
<text transform="translate(580 940.7) scale(0.915 1) rotate(0.03)" font-size="10.0px" fill="#000" stroke="#000" stroke-width="0.2" text-anchor="start">14 Jul 04:00</text>
<rect x="645" y="929" width="1" height="2" fill="#000"/>
<text transform="translate(644 940.7) scale(0.915 1) rotate(0.03)" font-size="10.0px" fill="#000" stroke="#000" stroke-width="0.2" text-anchor="start">14 Jul 20:00</text>
<rect x="709" y="929" width="1" height="2" fill="#000"/>
<text transform="translate(708 940.7) scale(0.915 1) rotate(0.03)" font-size="10.0px" fill="#000" stroke="#000" stroke-width="0.2" text-anchor="start">15 Jul 12:00</text>
<rect x="773" y="929" width="1" height="2" fill="#000"/>
<text transform="translate(772 940.7) scale(0.915 1) rotate(0.03)" font-size="10.0px" fill="#000" stroke="#000" stroke-width="0.2" text-anchor="start">18 Jul 04:00</text>
<rect x="837" y="929" width="1" height="2" fill="#000"/>
<text transform="translate(836 940.7) scale(0.915 1) rotate(0.03)" font-size="10.0px" fill="#000" stroke="#000" stroke-width="0.2" text-anchor="start">18 Jul 20:00</text>
<rect x="901" y="929" width="1" height="2" fill="#000"/>
<text transform="translate(900 940.7) scale(0.915 1) rotate(0.03)" font-size="10.0px" fill="#000" stroke="#000" stroke-width="0.2" text-anchor="start">19 Jul 12:00</text>
<rect x="965" y="929" width="1" height="2" fill="#000"/>
<text transform="translate(964 940.7) scale(0.915 1) rotate(0.03)" font-size="10.0px" fill="#000" stroke="#000" stroke-width="0.2" text-anchor="start">20 Jul 04:00</text>
<rect x="1029" y="929" width="1" height="2" fill="#000"/>
<text transform="translate(1028 940.7) scale(0.915 1) rotate(0.03)" font-size="10.0px" fill="#000" stroke="#000" stroke-width="0.2" text-anchor="start">20 Jul 20:00</text>
<rect x="1093" y="929" width="1" height="2" fill="#000"/>
<text transform="translate(1092 940.7) scale(0.915 1) rotate(0.03)" font-size="10.0px" fill="#000" stroke="#000" stroke-width="0.2" text-anchor="start">21 Jul 12:00</text>
<rect x="1157" y="929" width="1" height="2" fill="#000"/>
<text transform="translate(1156 940.7) scale(0.915 1) rotate(0.03)" font-size="10.0px" fill="#000" stroke="#000" stroke-width="0.2" text-anchor="start">22 Jul 04:00</text>
<rect x="1221" y="929" width="1" height="2" fill="#000"/>
<text transform="translate(1220 940.7) scale(0.915 1) rotate(0.03)" font-size="10.0px" fill="#000" stroke="#000" stroke-width="0.2" text-anchor="start">24 Jul 23:00</text>
<rect x="1285" y="929" width="1" height="2" fill="#000"/>
<text transform="translate(1284 940.7) scale(0.915 1) rotate(0.03)" font-size="10.0px" fill="#000" stroke="#000" stroke-width="0.2" text-anchor="start">25 Jul 12:00</text>
<g shape-rendering="geometricPrecision">
<defs><pattern id="chk" width="2" height="2" patternUnits="userSpaceOnUse"><rect width="2" height="2" fill="#f0f0f0"/><rect width="1" height="1" fill="#fff"/><rect x="1" y="1" width="1" height="1" fill="#fff"/></pattern><linearGradient id="gd" x1="0" y1="0" x2="1" y2="1"><stop offset="0" stop-color="#e0a810"/><stop offset="0.5" stop-color="#ffdc40"/><stop offset="1" stop-color="#e0a010"/></linearGradient><linearGradient id="bl" x1="0" y1="0" x2="0" y2="1"><stop offset="0" stop-color="#4a9cf0"/><stop offset="1" stop-color="#0a50c8"/></linearGradient><linearGradient id="rd" x1="0" y1="0" x2="0" y2="1"><stop offset="0" stop-color="#e9583a"/><stop offset="1" stop-color="#d81e05"/></linearGradient><linearGradient id="gr" x1="0" y1="0" x2="0" y2="1"><stop offset="0" stop-color="#b8f5b0"/><stop offset="1" stop-color="#20c020"/></linearGradient></defs>
<rect x="0" y="13" width="3" height="4" fill="#00dd22" shape-rendering="crispEdges"/><rect x="0" y="16" width="3" height="1" fill="#008a00" shape-rendering="crispEdges"/>
<text x="6.2" y="14" font-size="11.3px" letter-spacing="0.7" fill="#000" stroke="#000" stroke-width="0.25">新订单</text>
<path d="M54,13.2 L54.3,12 L61.6,16.6 L69.5,10.9 L69.9,13.3 L61.7,18.7 Z" fill="#b8801a" stroke="#96600a" stroke-width="0.7"/>
<path d="M54.6,13.4 L61.7,17.7 L69.6,12" stroke="#f0d078" stroke-width="0.7" fill="none"/>
<path d="M59.2,4.2 L69.5,10.9 L61.6,16.6 L54.3,12 Q57.6,8.8 59.2,4.2 Z" fill="url(#gd)" stroke="#a87008" stroke-width="0.8"/>
<path d="M59.6,5.6 Q58.4,9 56,11.6" stroke="#fff0a0" stroke-width="0.8" fill="none" opacity="0.7"/>
<polygon points="84.3,4.7 87.6,6.1 87.6,13.5 84.3,13.5" fill="#1a78e8"/>
<polygon points="87.6,6.1 95.2,4.5 95.2,13.5 87.6,13.5" fill="#35a0ff"/>
<polygon points="84.3,4.7 89,3.2 95.2,4.5 87.6,6.1" fill="#7cc4ff" stroke="#1a88f0" stroke-width="0.5"/>
<path d="M89.3,8.3 L94,7.4" stroke="#e8f4ff" stroke-width="1.1"/><path d="M89.3,10.4 L94,9.8" stroke="#a8d4ff" stroke-width="0.7"/>
<path d="M84.5,18.3 C81.5,18.3 81.5,14.2 84.8,14.3 C85,11.3 89.5,10.8 90.6,13 C92.2,11.6 95.2,12.3 95.2,14.4 C98.6,14.2 98.8,18.3 95.8,18.3 Z" fill="#e6eefa" stroke="#5a80c8" stroke-width="0.9"/>
<path d="M83,17.2 C83.4,18.2 84,18.4 84.8,18.4 H95.6 C96.6,18.4 97.2,18 97.5,17.2" fill="none" stroke="#34579c" stroke-width="1.2"/>
<circle cx="118.2" cy="10.8" r="7.6" fill="#dfe9e0" opacity="0.55"/>
<path d="M118.2,3.2 A7.6,7.6 0 0 0 118.2,18.4" stroke="#5b86d6" stroke-width="1.1" fill="none" opacity="0.8"/>
<path d="M118.2,3.2 A7.6,7.6 0 0 1 118.2,18.4" stroke="#7fb58a" stroke-width="1.6" fill="none" opacity="0.85"/>
<circle cx="118.2" cy="10.8" r="5" stroke="#5b86d6" stroke-width="1" fill="none" opacity="0.75"/>
<path d="M118.2,5.8 A5,5 0 0 1 118.2,15.8" stroke="#6fae7a" stroke-width="1.4" fill="none" opacity="0.9"/>
<path d="M118.2,10.8 L118.2,18.5 A7.7,7.7 0 0 0 122.6,4.5 Z" fill="#5aaa5a" opacity="0.4"/>
<circle cx="118.2" cy="10.8" r="2.1" fill="#2a5bd0"/>
<rect x="118" y="11" width="1.6" height="7.5" fill="#18a018"/>
<polygon points="137.3,9.4 152.5,9 150.3,14.4 144.5,18.6 140.9,16.6" fill="#f5d848" stroke="#d0a010" stroke-width="0.6"/><path d="M139,10.5 L145,10.5 L142,15.5 Z" fill="#fdf0a0" opacity="0.8"/>
<ellipse cx="145" cy="8.2" rx="7.9" ry="2.3" fill="#4aa6d8" stroke="#2a84b8" stroke-width="0.6" transform="rotate(-4 145 8.2)"/>
<path d="M140.8,7.6 C140.8,1.8 148.6,1.8 148.6,7.2 Z" fill="#6bbbe6" stroke="#2a84b8" stroke-width="0.6"/>
<circle cx="149.5" cy="14.6" r="4.1" fill="#e02810" stroke="#c01800" stroke-width="0.5"/><rect x="147.8" y="12.9" width="3.4" height="3.4" fill="#fff"/>
<text x="157.5" y="14" font-size="11.3px" letter-spacing="1.0" fill="#000" stroke="#000" stroke-width="0.25">自动交易</text>
<rect x="213" y="0" width="1" height="23" fill="#a0a0a0" shape-rendering="crispEdges"/><rect x="214" y="0" width="1" height="23" fill="#fff" shape-rendering="crispEdges"/>
<rect x="217" y="1" width="3" height="1" fill="#a8a8a8" shape-rendering="crispEdges"/>
<rect x="217" y="3" width="3" height="1" fill="#a8a8a8" shape-rendering="crispEdges"/>
<rect x="217" y="5" width="3" height="1" fill="#a8a8a8" shape-rendering="crispEdges"/>
<rect x="217" y="7" width="3" height="1" fill="#a8a8a8" shape-rendering="crispEdges"/>
<rect x="217" y="9" width="3" height="1" fill="#a8a8a8" shape-rendering="crispEdges"/>
<rect x="217" y="11" width="3" height="1" fill="#a8a8a8" shape-rendering="crispEdges"/>
<rect x="217" y="13" width="3" height="1" fill="#a8a8a8" shape-rendering="crispEdges"/>
<rect x="217" y="15" width="3" height="1" fill="#a8a8a8" shape-rendering="crispEdges"/>
<rect x="217" y="17" width="3" height="1" fill="#a8a8a8" shape-rendering="crispEdges"/>
<rect x="217" y="19" width="3" height="1" fill="#a8a8a8" shape-rendering="crispEdges"/>
<path d="M231.5,19 V6 M229,16.5 H242" stroke="#505050" stroke-width="1.3" fill="none"/>
<polygon points="231.5,4.5 229.5,7.5 233.5,7.5" fill="#505050"/>
<polygon points="243.5,16.5 240.5,14.5 240.5,18.5" fill="#505050"/>
<path d="M237.5,6.2 V14.6 M237.5,7.5 H240 M235,13.5 H237.5" stroke="#008000" stroke-width="1.3" fill="none"/>
<rect x="252" y="1" width="24" height="20" fill="url(#chk)" shape-rendering="crispEdges"/>
<rect x="251" y="0" width="1" height="21" fill="#a0a0a0" shape-rendering="crispEdges"/>
<rect x="251" y="21" width="26" height="1" fill="#fff" shape-rendering="crispEdges"/>
<rect x="276" y="0" width="1" height="22" fill="#fff" shape-rendering="crispEdges"/>
<path d="M259.5,19 V6 M257,16.5 H270" stroke="#505050" stroke-width="1.3" fill="none"/>
<polygon points="259.5,4.5 257.5,7.5 261.5,7.5" fill="#505050"/>
<polygon points="271.5,16.5 268.5,14.5 268.5,18.5" fill="#505050"/>
<path d="M265.5,3.2 V14.6" stroke="#008000" stroke-width="1.3"/><rect x="263.4" y="5.3" width="4.3" height="7.6" fill="url(#gr)" stroke="#00a000" stroke-width="1"/>
<path d="M287.5,19 V6 M285,16.5 H298" stroke="#505050" stroke-width="1.3" fill="none"/>
<polygon points="287.5,4.5 285.5,7.5 289.5,7.5" fill="#505050"/>
<polygon points="299.5,16.5 296.5,14.5 296.5,18.5" fill="#505050"/>
<path d="M286.3,13.5 C289,11.5 290.5,8.2 292.2,8.4 C294,8.6 295.5,11.5 297.8,12.2" stroke="#108010" stroke-width="1.3" fill="none"/>
<rect x="308" y="0" width="1" height="21" fill="#a0a0a0" shape-rendering="crispEdges"/><rect x="309" y="0" width="1" height="21" fill="#fff" shape-rendering="crispEdges"/>
<path d="M327,13.8 L331.8,18" stroke="#c89a10" stroke-width="3" stroke-linecap="round"/>
<path d="M327.3,13.4 L331.5,17" stroke="#f5dc60" stroke-width="1" stroke-linecap="round"/>
<circle cx="323" cy="9" r="5.4" fill="#d4ecfa" stroke="#2d7bd0" stroke-width="1.2"/>
<path d="M320,9 H326" stroke="#3c8dbc" stroke-width="1.6"/>
<path d="M323,6 V12" stroke="#3c8dbc" stroke-width="1.6"/>
<path d="M355,13.8 L359.8,18" stroke="#c89a10" stroke-width="3" stroke-linecap="round"/>
<path d="M355.3,13.4 L359.5,17" stroke="#f5dc60" stroke-width="1" stroke-linecap="round"/>
<circle cx="351" cy="9" r="5.4" fill="#d4ecfa" stroke="#2d7bd0" stroke-width="1.2"/>
<path d="M348,9 H354" stroke="#3c8dbc" stroke-width="1.6"/>
<rect x="373" y="3.3" width="8" height="7.8" fill="#3c9a1c"/><rect x="374.2" y="6.3" width="5.6" height="3.8" fill="#fff"/><rect x="375.2" y="7.3" width="3.6" height="1" fill="#b6e2a0"/>
<rect x="381" y="3.3" width="8" height="7.8" fill="#2255cc"/><rect x="382.2" y="6.3" width="5.6" height="3.8" fill="#fff"/><rect x="383.2" y="7.3" width="3.6" height="1" fill="#a8c0f0"/>
<rect x="373" y="11.2" width="8" height="7.8" fill="#2255cc"/><rect x="374.2" y="14.2" width="5.6" height="3.8" fill="#fff"/><rect x="375.2" y="15.2" width="3.6" height="1" fill="#a8c0f0"/>
<rect x="381" y="11.2" width="8" height="7.8" fill="#3c9a1c"/><rect x="382.2" y="14.2" width="5.6" height="3.8" fill="#fff"/><rect x="383.2" y="15.2" width="3.6" height="1" fill="#b6e2a0"/>
<rect x="398" y="0" width="1" height="21" fill="#a0a0a0" shape-rendering="crispEdges"/><rect x="399" y="0" width="1" height="21" fill="#fff" shape-rendering="crispEdges"/>
<rect x="404" y="1" width="24" height="20" fill="url(#chk)" shape-rendering="crispEdges"/>
<rect x="403" y="0" width="1" height="21" fill="#a0a0a0" shape-rendering="crispEdges"/>
<rect x="403" y="21" width="26" height="1" fill="#fff" shape-rendering="crispEdges"/>
<rect x="428" y="0" width="1" height="22" fill="#fff" shape-rendering="crispEdges"/>
<path d="M411.5,19 V6 M409,16.5 H422" stroke="#505050" stroke-width="1.3" fill="none"/>
<polygon points="411.5,4.5 409.5,7.5 413.5,7.5" fill="#505050"/>
<polygon points="423.5,16.5 420.5,14.5 420.5,18.5" fill="#505050"/>
<polygon points="416,7.2 419.6,10.5 416,13.8" fill="#50d850" stroke="#00a000" stroke-width="0.9"/>
<rect x="432" y="1" width="24" height="20" fill="url(#chk)" shape-rendering="crispEdges"/>
<rect x="431" y="0" width="1" height="21" fill="#a0a0a0" shape-rendering="crispEdges"/>
<rect x="431" y="21" width="26" height="1" fill="#fff" shape-rendering="crispEdges"/>
<rect x="456" y="0" width="1" height="22" fill="#fff" shape-rendering="crispEdges"/>
<path d="M439.5,19 V6 M437,16.5 H450" stroke="#505050" stroke-width="1.3" fill="none"/>
<polygon points="439.5,4.5 437.5,7.5 441.5,7.5" fill="#505050"/>
<polygon points="451.5,16.5 448.5,14.5 448.5,18.5" fill="#505050"/>
<path d="M445.5,5 V14.8" stroke="#1874b0" stroke-width="1.3"/>
<path d="M446.8,10.5 H451.2 M446.8,10.5 L449.2,8.2 M446.8,10.5 L449.2,12.8" stroke="#e05000" stroke-width="1.2" fill="none"/>
<rect x="460" y="0" width="1" height="21" fill="#a0a0a0" shape-rendering="crispEdges"/><rect x="461" y="0" width="1" height="21" fill="#fff" shape-rendering="crispEdges"/>
<path d="M470.5,3.5 H478.5 L481.5,6.5 V16.5 H470.5 Z" fill="#fbfbfb" stroke="#6a6a6a" stroke-width="0.9"/><path d="M478.5,3.5 V6.5 H481.5" fill="none" stroke="#6a6a6a" stroke-width="0.8"/>
<text x="472.3" y="13.5" font-size="9.5px" font-style="italic" font-weight="bold" fill="#404040" style="font-family:'Liberation Serif',serif">f</text>
<path d="M480,9.2 V20.6 M474.3,14.9 H485.7" stroke="#109a10" stroke-width="4"/><path d="M480,10 V19.8 M475,14.9 H485" stroke="#30d830" stroke-width="2.2"/>
<polygon points="492,10 497,10 494.5,13" fill="#000"/>
<circle cx="516" cy="10.9" r="6.8" fill="#f4f6fa" stroke="url(#bl)" stroke-width="2.6"/><circle cx="516" cy="10.9" r="8" fill="none" stroke="#0f4cb0" stroke-width="0.6"/>
<path d="M516,10.9 V6.2 M516,10.9 L519,12.2" stroke="#303030" stroke-width="1.2" fill="none"/>
<polygon points="531,10 536,10 533.5,13" fill="#000"/>
<rect x="547.5" y="4.3" width="15.2" height="13.2" fill="#fff" stroke="#3a6fc4" stroke-width="1.1"/><rect x="547.5" y="4.3" width="15.2" height="2" fill="#4a86dc"/><path d="M547.5,11.6 H562.7" stroke="#3a6fc4" stroke-width="1"/>
<path d="M549.5,10.3 L551.5,10.3 L553.5,8.6 L556,9.6 L558,9.3 L560.5,8.3" stroke="#a02810" stroke-width="1.2" fill="none"/>
<path d="M550,15.5 L552,15.2 L553.5,14 L555.5,15.5 L557.8,13.5 L560.5,15.5" stroke="#109020" stroke-width="1.2" fill="none"/>
<polygon points="570,10 575,10 572.5,13" fill="#000"/>
<rect x="581" y="0" width="1" height="23" fill="#a0a0a0" shape-rendering="crispEdges"/><rect x="582" y="0" width="1" height="23" fill="#fff" shape-rendering="crispEdges"/>
<rect x="585" y="1" width="3" height="1" fill="#a8a8a8" shape-rendering="crispEdges"/>
<rect x="585" y="3" width="3" height="1" fill="#a8a8a8" shape-rendering="crispEdges"/>
<rect x="585" y="5" width="3" height="1" fill="#a8a8a8" shape-rendering="crispEdges"/>
<rect x="585" y="7" width="3" height="1" fill="#a8a8a8" shape-rendering="crispEdges"/>
<rect x="585" y="9" width="3" height="1" fill="#a8a8a8" shape-rendering="crispEdges"/>
<rect x="585" y="11" width="3" height="1" fill="#a8a8a8" shape-rendering="crispEdges"/>
<rect x="585" y="13" width="3" height="1" fill="#a8a8a8" shape-rendering="crispEdges"/>
<rect x="585" y="15" width="3" height="1" fill="#a8a8a8" shape-rendering="crispEdges"/>
<rect x="585" y="17" width="3" height="1" fill="#a8a8a8" shape-rendering="crispEdges"/>
<rect x="585" y="19" width="3" height="1" fill="#a8a8a8" shape-rendering="crispEdges"/>
<rect x="592" y="1" width="24" height="20" fill="url(#chk)" shape-rendering="crispEdges"/>
<rect x="591" y="0" width="1" height="21" fill="#a0a0a0" shape-rendering="crispEdges"/>
<rect x="591" y="21" width="26" height="1" fill="#fff" shape-rendering="crispEdges"/>
<rect x="616" y="0" width="1" height="22" fill="#fff" shape-rendering="crispEdges"/>
<polygon points="599.2,4 599.2,14.9 601.5,12.6 604.2,17.8 605.8,17.2 603.5,12.2 606.8,11.9" fill="#484848"/>
<path d="M624,11.5 H630 M633,11.5 H639 M631.5,4 V10 M631.5,13 V19" stroke="#484848" stroke-width="1.2"/><rect x="631" y="11" width="1" height="1" fill="#909090"/>
<rect x="648" y="0" width="1" height="21" fill="#a0a0a0" shape-rendering="crispEdges"/><rect x="649" y="0" width="1" height="21" fill="#fff" shape-rendering="crispEdges"/>
<path d="M665.5,5 V18" stroke="#484848" stroke-width="1.3"/>
<path d="M688,11.5 H700" stroke="#484848" stroke-width="1.3"/>
<path d="M716,17.8 L728,6" stroke="#484848" stroke-width="1.2"/>
<path d="M741.7,12.4 L749.8,5 M746.9,17.9 L756.3,9.2" stroke="#505050" stroke-width="1" stroke-dasharray="1.2,0.8" fill="none"/>
<path d="M743,16.3 L744.6,17.6 L744.2,11 L747,14.6 L747.4,8.8 L750.4,12.6 L751,7 L753.6,10 L753.5,3.3 L755.6,9.6" stroke="#404040" stroke-width="1.25" fill="none" stroke-linejoin="round"/>
<text x="752.4" y="19.8" font-size="6.8px" font-weight="bold" fill="#303030">E</text>
<rect x="771" y="4" width="1" height="1" fill="#484848" shape-rendering="crispEdges"/>
<rect x="773" y="4" width="1" height="1" fill="#484848" shape-rendering="crispEdges"/>
<rect x="775" y="4" width="1" height="1" fill="#484848" shape-rendering="crispEdges"/>
<rect x="777" y="4" width="1" height="1" fill="#484848" shape-rendering="crispEdges"/>
<rect x="779" y="4" width="1" height="1" fill="#484848" shape-rendering="crispEdges"/>
<rect x="781" y="4" width="1" height="1" fill="#484848" shape-rendering="crispEdges"/>
<rect x="783" y="4" width="1" height="1" fill="#484848" shape-rendering="crispEdges"/>
<rect x="771" y="7" width="1" height="1" fill="#484848" shape-rendering="crispEdges"/>
<rect x="773" y="7" width="1" height="1" fill="#484848" shape-rendering="crispEdges"/>
<rect x="775" y="7" width="1" height="1" fill="#484848" shape-rendering="crispEdges"/>
<rect x="777" y="7" width="1" height="1" fill="#484848" shape-rendering="crispEdges"/>
<rect x="779" y="7" width="1" height="1" fill="#484848" shape-rendering="crispEdges"/>
<rect x="781" y="7" width="1" height="1" fill="#484848" shape-rendering="crispEdges"/>
<rect x="783" y="7" width="1" height="1" fill="#484848" shape-rendering="crispEdges"/>
<rect x="771" y="11" width="1" height="1" fill="#484848" shape-rendering="crispEdges"/>
<rect x="773" y="11" width="1" height="1" fill="#484848" shape-rendering="crispEdges"/>
<rect x="775" y="11" width="1" height="1" fill="#484848" shape-rendering="crispEdges"/>
<rect x="777" y="11" width="1" height="1" fill="#484848" shape-rendering="crispEdges"/>
<rect x="779" y="11" width="1" height="1" fill="#484848" shape-rendering="crispEdges"/>
<rect x="781" y="11" width="1" height="1" fill="#484848" shape-rendering="crispEdges"/>
<rect x="783" y="11" width="1" height="1" fill="#484848" shape-rendering="crispEdges"/>
<rect x="771" y="15" width="1" height="1" fill="#484848" shape-rendering="crispEdges"/>
<rect x="773" y="15" width="1" height="1" fill="#484848" shape-rendering="crispEdges"/>
<rect x="775" y="15" width="1" height="1" fill="#484848" shape-rendering="crispEdges"/>
<rect x="777" y="15" width="1" height="1" fill="#484848" shape-rendering="crispEdges"/>
<rect x="779" y="15" width="1" height="1" fill="#484848" shape-rendering="crispEdges"/>
<text x="780.6" y="19.8" font-size="6.8px" font-weight="bold" fill="#303030">F</text>
<text x="801.3" y="16" font-size="12.5px" fill="#505050" stroke="#505050" stroke-width="0.35">A</text>
<rect x="831" y="5" width="1" height="1" fill="#484848" shape-rendering="crispEdges"/>
<rect x="833" y="5" width="1" height="1" fill="#484848" shape-rendering="crispEdges"/>
<rect x="835" y="5" width="1" height="1" fill="#484848" shape-rendering="crispEdges"/>
<rect x="837" y="5" width="1" height="1" fill="#484848" shape-rendering="crispEdges"/>
<rect x="839" y="5" width="1" height="1" fill="#484848" shape-rendering="crispEdges"/>
<rect x="828" y="17" width="1" height="1" fill="#484848" shape-rendering="crispEdges"/>
<rect x="830" y="17" width="1" height="1" fill="#484848" shape-rendering="crispEdges"/>
<rect x="832" y="17" width="1" height="1" fill="#484848" shape-rendering="crispEdges"/>
<rect x="834" y="17" width="1" height="1" fill="#484848" shape-rendering="crispEdges"/>
<rect x="836" y="17" width="1" height="1" fill="#484848" shape-rendering="crispEdges"/>
<rect x="838" y="17" width="1" height="1" fill="#484848" shape-rendering="crispEdges"/>
<rect x="828" y="7" width="1" height="1" fill="#484848" shape-rendering="crispEdges"/>
<rect x="839" y="7" width="1" height="1" fill="#484848" shape-rendering="crispEdges"/>
<rect x="828" y="9" width="1" height="1" fill="#484848" shape-rendering="crispEdges"/>
<rect x="839" y="9" width="1" height="1" fill="#484848" shape-rendering="crispEdges"/>
<rect x="828" y="11" width="1" height="1" fill="#484848" shape-rendering="crispEdges"/>
<rect x="839" y="11" width="1" height="1" fill="#484848" shape-rendering="crispEdges"/>
<rect x="828" y="13" width="1" height="1" fill="#484848" shape-rendering="crispEdges"/>
<rect x="839" y="13" width="1" height="1" fill="#484848" shape-rendering="crispEdges"/>
<rect x="828" y="15" width="1" height="1" fill="#484848" shape-rendering="crispEdges"/>
<rect x="839" y="15" width="1" height="1" fill="#484848" shape-rendering="crispEdges"/>
<rect x="827" y="4" width="2" height="2" fill="#484848" shape-rendering="crispEdges"/>
<rect x="830" y="8" width="8" height="1" fill="#505050" shape-rendering="crispEdges"/><rect x="833" y="9" width="2" height="7" fill="#505050" shape-rendering="crispEdges"/>
<polygon points="860,5 856.8,8.4 863.2,8.4" fill="#484848"/><polygon points="865.6,17.8 862,14.3 869.2,14.3" fill="#484848"/>
<path d="M857.4,12.8 L859.4,14.4 L863.6,9.8" stroke="#484848" stroke-width="1.2" fill="none"/>
<polygon points="876,10 881,10 878.5,13" fill="#000"/>
<rect x="887" y="0" width="1" height="23" fill="#a0a0a0" shape-rendering="crispEdges"/><rect x="888" y="0" width="1" height="23" fill="#fff" shape-rendering="crispEdges"/>
<rect x="891" y="1" width="3" height="1" fill="#a8a8a8" shape-rendering="crispEdges"/>
<rect x="891" y="3" width="3" height="1" fill="#a8a8a8" shape-rendering="crispEdges"/>
<rect x="891" y="5" width="3" height="1" fill="#a8a8a8" shape-rendering="crispEdges"/>
<rect x="891" y="7" width="3" height="1" fill="#a8a8a8" shape-rendering="crispEdges"/>
<rect x="891" y="9" width="3" height="1" fill="#a8a8a8" shape-rendering="crispEdges"/>
<rect x="891" y="11" width="3" height="1" fill="#a8a8a8" shape-rendering="crispEdges"/>
<rect x="891" y="13" width="3" height="1" fill="#a8a8a8" shape-rendering="crispEdges"/>
<rect x="891" y="15" width="3" height="1" fill="#a8a8a8" shape-rendering="crispEdges"/>
<rect x="891" y="17" width="3" height="1" fill="#a8a8a8" shape-rendering="crispEdges"/>
<rect x="891" y="19" width="3" height="1" fill="#a8a8a8" shape-rendering="crispEdges"/>
<rect x="1038" y="1" width="23" height="20" fill="url(#chk)" shape-rendering="crispEdges"/>
<rect x="1037" y="0" width="1" height="21" fill="#a0a0a0" shape-rendering="crispEdges"/>
<rect x="1037" y="21" width="25" height="1" fill="#fff" shape-rendering="crispEdges"/>
<rect x="1061" y="0" width="1" height="22" fill="#fff" shape-rendering="crispEdges"/>
<text transform="translate(909 15.3) scale(0.86 1)" font-size="11px" fill="#202020" stroke="#202020" stroke-width="0.15" text-anchor="middle">M1</text>
<text transform="translate(937 15.3) scale(0.86 1)" font-size="11px" fill="#202020" stroke="#202020" stroke-width="0.15" text-anchor="middle">M5</text>
<text transform="translate(965 15.3) scale(0.86 1)" font-size="11px" fill="#202020" stroke="#202020" stroke-width="0.15" text-anchor="middle">M15</text>
<text transform="translate(993 15.3) scale(0.86 1)" font-size="11px" fill="#202020" stroke="#202020" stroke-width="0.15" text-anchor="middle">M30</text>
<text transform="translate(1021 15.3) scale(0.86 1)" font-size="11px" fill="#202020" stroke="#202020" stroke-width="0.15" text-anchor="middle">H1</text>
<text transform="translate(1049 15.3) scale(0.86 1)" font-size="11px" fill="#202020" stroke="#202020" stroke-width="0.15" text-anchor="middle">H4</text>
<text transform="translate(1077 15.3) scale(0.86 1)" font-size="11px" fill="#202020" stroke="#202020" stroke-width="0.15" text-anchor="middle">D1</text>
<text transform="translate(1106 15.3) scale(0.86 1)" font-size="11px" fill="#202020" stroke="#202020" stroke-width="0.15" text-anchor="middle">W1</text>
<text transform="translate(1133 15.3) scale(0.86 1)" font-size="11px" fill="#202020" stroke="#202020" stroke-width="0.15" text-anchor="middle">MN</text>
<rect x="1148" y="0" width="1" height="21" fill="#a0a0a0" shape-rendering="crispEdges"/><rect x="1149" y="0" width="1" height="21" fill="#fff" shape-rendering="crispEdges"/>
<path d="M1615.2,11.8 L1611,15.8" stroke="#2a5cd0" stroke-width="2.4" stroke-linecap="round"/><circle cx="1618.7" cy="8.6" r="3.9" fill="#fff" stroke="#2a5cd0" stroke-width="1.3"/>
<path d="M1638.2,19.6 L1638.6,17.4 C1633.6,16.4 1633.8,8.4 1640.2,8.2 C1647,8.2 1647,17.6 1640.6,17.6 Z" fill="#e2e3ee" stroke="#a0a0a0" stroke-width="0.8"/>
<circle cx="1649.6" cy="8.4" r="8.2" fill="url(#rd)"/>
<text transform="translate(1649.3 12.9) scale(0.82 1)" font-size="12.4px" font-weight="bold" fill="#fff" text-anchor="middle">1</text>
</g>
</svg>
</body></html>
